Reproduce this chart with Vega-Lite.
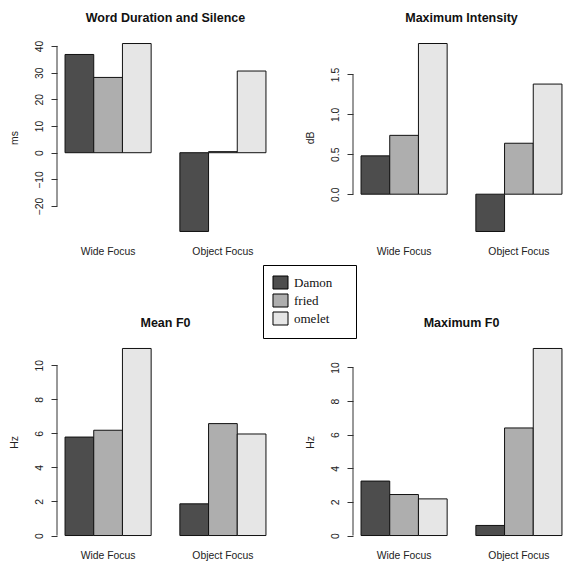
{
  "$schema": "https://vega.github.io/schema/vega-lite/v6.json",
  "background": "white",
  "padding": {"left": 9, "top": 11, "right": 0, "bottom": 1},
  "datasets": {
    "bars": [
      {"panel": "dur", "focus": "Wide Focus", "word": "Damon", "value": 36.8},
      {"panel": "dur", "focus": "Wide Focus", "word": "fried", "value": 28.2},
      {"panel": "dur", "focus": "Wide Focus", "word": "omelet", "value": 40.9},
      {"panel": "dur", "focus": "Object Focus", "word": "Damon", "value": -29.5},
      {"panel": "dur", "focus": "Object Focus", "word": "fried", "value": 0.4},
      {"panel": "dur", "focus": "Object Focus", "word": "omelet", "value": 30.6},
      {"panel": "int", "focus": "Wide Focus", "word": "Damon", "value": 0.48},
      {"panel": "int", "focus": "Wide Focus", "word": "fried", "value": 0.737},
      {"panel": "int", "focus": "Wide Focus", "word": "omelet", "value": 1.887},
      {"panel": "int", "focus": "Object Focus", "word": "Damon", "value": -0.467},
      {"panel": "int", "focus": "Object Focus", "word": "fried", "value": 0.638},
      {"panel": "int", "focus": "Object Focus", "word": "omelet", "value": 1.379},
      {"panel": "mf0", "focus": "Wide Focus", "word": "Damon", "value": 5.78},
      {"panel": "mf0", "focus": "Wide Focus", "word": "fried", "value": 6.18},
      {"panel": "mf0", "focus": "Wide Focus", "word": "omelet", "value": 10.98},
      {"panel": "mf0", "focus": "Object Focus", "word": "Damon", "value": 1.86},
      {"panel": "mf0", "focus": "Object Focus", "word": "fried", "value": 6.57},
      {"panel": "mf0", "focus": "Object Focus", "word": "omelet", "value": 5.96},
      {"panel": "xf0", "focus": "Wide Focus", "word": "Damon", "value": 3.24},
      {"panel": "xf0", "focus": "Wide Focus", "word": "fried", "value": 2.44},
      {"panel": "xf0", "focus": "Wide Focus", "word": "omelet", "value": 2.18},
      {"panel": "xf0", "focus": "Object Focus", "word": "Damon", "value": 0.6},
      {"panel": "xf0", "focus": "Object Focus", "word": "fried", "value": 6.4},
      {"panel": "xf0", "focus": "Object Focus", "word": "omelet", "value": 11.13}
    ],
    "axes": [
      {"panel": "dur", "lo": -20, "hi": 40},
      {"panel": "int", "lo": 0, "hi": 1.5},
      {"panel": "mf0", "lo": 0, "hi": 10},
      {"panel": "xf0", "lo": 0, "hi": 10}
    ]
  },
  "columns": 2,
  "bounds": "flush",
  "spacing": {"row": 102, "column": 79},
  "concat": [
    {
      "width": 217, "height": 203,
      "title": {"text": "Word Duration and Silence"},
      "layer": [
        {
          "data": {"name": "bars"},
          "transform": [{"filter": "datum.panel === 'dur'"}],
          "mark": {"type": "bar", "stroke": "#111", "strokeWidth": 1},
          "encoding": {
            "x": {"field": "focus", "type": "nominal", "sort": ["Wide Focus", "Object Focus"], "title": null, "scale": {"paddingInner": 0.25, "paddingOuter": 0.07}},
            "xOffset": {"field": "word", "type": "nominal", "sort": ["Damon", "fried", "omelet"], "scale": {"paddingInner": 0, "paddingOuter": 0}},
            "y": {"field": "value", "type": "quantitative", "title": "ms", "scale": {"domain": [-32.32, 43.72], "nice": false, "zero": false}, "axis": {"values": [-20, -10, 0, 10, 20, 30, 40]}},
            "y2": {"datum": 0},
            "fill": {"field": "word", "type": "nominal", "title": null, "scale": {"domain": ["Damon", "fried", "omelet"], "range": ["#4d4d4d", "#aeaeae", "#e6e6e6"]}, "legend": {"labelExpr": "datum.label + '\u00a0\u00a0\u00a0\u00a0\u200b'", "rowPadding": 0, "padding": 10.5}}
          }
        },
        {
          "data": {"name": "axes"},
          "transform": [{"filter": "datum.panel === 'dur'"}],
          "mark": {"type": "rule", "color": "#333", "strokeWidth": 1},
          "encoding": {"x": {"value": 0}, "y": {"field": "lo", "type": "quantitative", "title": "ms", "axis": {"values": [-20, -10, 0, 10, 20, 30, 40]}}, "y2": {"field": "hi"}}
        }
      ]
    },
    {
      "width": 217, "height": 203,
      "title": {"text": "Maximum Intensity"},
      "layer": [
        {
          "data": {"name": "bars"},
          "transform": [{"filter": "datum.panel === 'int'"}],
          "mark": {"type": "bar", "stroke": "#111", "strokeWidth": 1},
          "encoding": {
            "x": {"field": "focus", "type": "nominal", "sort": ["Wide Focus", "Object Focus"], "title": null, "scale": {"paddingInner": 0.25, "paddingOuter": 0.07}},
            "xOffset": {"field": "word", "type": "nominal", "sort": ["Damon", "fried", "omelet"], "scale": {"paddingInner": 0, "paddingOuter": 0}},
            "y": {"field": "value", "type": "quantitative", "title": "dB", "scale": {"domain": [-0.561, 1.981], "nice": false, "zero": false}, "axis": {"values": [0, 0.5, 1, 1.5], "format": ".1f"}},
            "y2": {"datum": 0},
            "fill": {"field": "word", "type": "nominal", "title": null, "scale": {"domain": ["Damon", "fried", "omelet"], "range": ["#4d4d4d", "#aeaeae", "#e6e6e6"]}, "legend": {"labelExpr": "datum.label + '\u00a0\u00a0\u00a0\u00a0\u200b'", "rowPadding": 0, "padding": 10.5}}
          }
        },
        {
          "data": {"name": "axes"},
          "transform": [{"filter": "datum.panel === 'int'"}],
          "mark": {"type": "rule", "color": "#333", "strokeWidth": 1},
          "encoding": {"x": {"value": 0}, "y": {"field": "lo", "type": "quantitative", "title": "dB", "axis": {"values": [0, 0.5, 1, 1.5], "format": ".1f"}}, "y2": {"field": "hi"}}
        }
      ]
    },
    {
      "width": 217, "height": 202,
      "title": {"text": "Mean F0"},
      "layer": [
        {
          "data": {"name": "bars"},
          "transform": [{"filter": "datum.panel === 'mf0'"}],
          "mark": {"type": "bar", "stroke": "#111", "strokeWidth": 1},
          "encoding": {
            "x": {"field": "focus", "type": "nominal", "sort": ["Wide Focus", "Object Focus"], "title": null, "scale": {"paddingInner": 0.25, "paddingOuter": 0.07}},
            "xOffset": {"field": "word", "type": "nominal", "sort": ["Damon", "fried", "omelet"], "scale": {"paddingInner": 0, "paddingOuter": 0}},
            "y": {"field": "value", "type": "quantitative", "title": "Hz", "scale": {"domain": [-0.439, 11.419], "nice": false, "zero": false}, "axis": {"values": [0, 2, 4, 6, 8, 10]}},
            "y2": {"datum": 0},
            "fill": {"field": "word", "type": "nominal", "title": null, "scale": {"domain": ["Damon", "fried", "omelet"], "range": ["#4d4d4d", "#aeaeae", "#e6e6e6"]}, "legend": {"labelExpr": "datum.label + '\u00a0\u00a0\u00a0\u00a0\u200b'", "rowPadding": 0, "padding": 10.5}}
          }
        },
        {
          "data": {"name": "axes"},
          "transform": [{"filter": "datum.panel === 'mf0'"}],
          "mark": {"type": "rule", "color": "#333", "strokeWidth": 1},
          "encoding": {"x": {"value": 0}, "y": {"field": "lo", "type": "quantitative", "title": "Hz", "axis": {"values": [0, 2, 4, 6, 8, 10]}}, "y2": {"field": "hi"}}
        }
      ]
    },
    {
      "width": 217, "height": 202,
      "title": {"text": "Maximum F0"},
      "layer": [
        {
          "data": {"name": "bars"},
          "transform": [{"filter": "datum.panel === 'xf0'"}],
          "mark": {"type": "bar", "stroke": "#111", "strokeWidth": 1},
          "encoding": {
            "x": {"field": "focus", "type": "nominal", "sort": ["Wide Focus", "Object Focus"], "title": null, "scale": {"paddingInner": 0.25, "paddingOuter": 0.07}},
            "xOffset": {"field": "word", "type": "nominal", "sort": ["Damon", "fried", "omelet"], "scale": {"paddingInner": 0, "paddingOuter": 0}},
            "y": {"field": "value", "type": "quantitative", "title": "Hz", "scale": {"domain": [-0.445, 11.575], "nice": false, "zero": false}, "axis": {"values": [0, 2, 4, 6, 8, 10]}},
            "y2": {"datum": 0},
            "fill": {"field": "word", "type": "nominal", "title": null, "scale": {"domain": ["Damon", "fried", "omelet"], "range": ["#4d4d4d", "#aeaeae", "#e6e6e6"]}, "legend": {"labelExpr": "datum.label + '\u00a0\u00a0\u00a0\u00a0\u200b'", "rowPadding": 0, "padding": 10.5}}
          }
        },
        {
          "data": {"name": "axes"},
          "transform": [{"filter": "datum.panel === 'xf0'"}],
          "mark": {"type": "rule", "color": "#333", "strokeWidth": 1},
          "encoding": {"x": {"value": 0}, "y": {"field": "lo", "type": "quantitative", "title": "Hz", "axis": {"values": [0, 2, 4, 6, 8, 10]}}, "y2": {"field": "hi"}}
        }
      ]
    }
  ],
  "config": {
    "view": {"stroke": null},
    "title": {"font": "Liberation Sans", "fontSize": 12.5, "fontWeight": "bold", "color": "#111", "anchor": "middle", "offset": 12},
    "axis": {"labelFont": "Liberation Sans", "labelFontSize": 10.4, "labelColor": "#222", "titleFont": "Liberation Sans", "titleFontSize": 10.4, "titleFontWeight": "normal", "titleColor": "#222", "grid": false, "domainColor": "#333", "tickColor": "#333"},
    "axisX": {"domain": false, "ticks": false, "labelAngle": 0, "labelBaseline": "middle", "labelPadding": 12},
    "axisY": {"domain": false, "tickSize": 6, "labelAngle": -90, "labelAlign": "center", "labelBaseline": "middle", "labelPadding": 12, "labelOverlap": false, "titleX": -43, "titleAngle": -90, "titleAlign": "center", "titleBaseline": "middle"},
    "legend": {"orient": "none", "legendX": 206, "legendY": 229, "direction": "vertical", "strokeColor": "black", "fillColor": "white", "padding": 10.5, "symbolType": "M-1.154,-1H1.154V1H-1.154Z", "symbolSize": 169, "symbolStrokeColor": "black", "symbolStrokeWidth": 1, "labelFont": "Liberation Serif", "labelFontSize": 13, "labelColor": "#111", "rowPadding": 0, "labelOffset": 6.5}
  }
}
